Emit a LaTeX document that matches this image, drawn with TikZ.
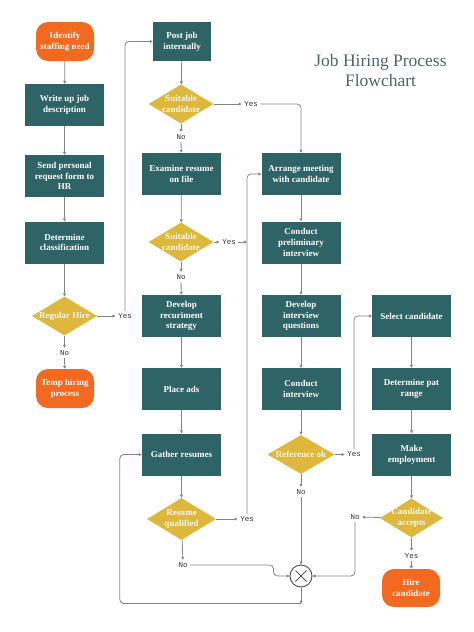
\documentclass[tikz,border=0pt]{standalone}
\usepackage{fontspec}
\setmainfont{Liberation Serif}
\setmonofont{Liberation Mono}
\usepackage{xcolor}
\usetikzlibrary{shapes.geometric, arrows.meta}
\definecolor{boxteal}{HTML}{2F6467}
\definecolor{diamgold}{HTML}{DDB83C}
\definecolor{termorange}{HTML}{F26A21}
\definecolor{wiregray}{HTML}{858585}
\definecolor{titleslate}{HTML}{4F6569}

\begin{document}
\begin{tikzpicture}[
  x=1pt, y=-1pt,
  proc/.style={fill=boxteal, text=white, minimum width=79pt, minimum height=42pt, inner sep=1pt, align=center, font=\bfseries\fontsize{9}{10.7}\selectfont},
  term/.style={proc, fill=termorange, rounded corners=12pt, minimum width=58pt, minimum height=39pt},
  decide/.style={diamond, fill=diamgold, text=white!92!diamgold, minimum width=65pt, minimum height=39pt, inner sep=-6pt, align=center, font=\bfseries\fontsize{9}{10.7}\selectfont},
  lbl/.style={inner sep=2.5pt, text=black!80, font=\ttfamily\fontsize{7.5}{8}\selectfont},
  link/.style={draw=wiregray, line width=0.8pt, rounded corners=4pt, -{Triangle[length=3pt, width=3pt]}}
]
\useasboundingbox (0,0) rectangle (474,632);

\node[font=\fontsize{17.5}{20}\selectfont, text=titleslate, align=center] (title) at (380.5,71) {Job Hiring Process\\Flowchart};

% first column
\node[term] (need) at (65,41.5) {Identify\\staffing need};
\node[proc] (writeup) at (64.5,105) {Write up job\\description};
\node[proc] (sendform) at (64.5,176) {Send personal\\request form to\\HR};
\node[proc] (classify) at (64.5,242.5) {Determine\\classification};
\node[decide] (regular) at (64.5,316) {Regular Hire};
\node[lbl] (regyes) at (125,316) {Yes};
\node[lbl] (regno) at (64.5,353) {No};
\node[term] (temp) at (65,388.5) {Temp hiring\\process};

% second column
\node[proc, minimum width=58pt, minimum height=39pt] (postjob) at (182,41.5) {Post job\\internally};
\node[decide] (suitA) at (181,104) {Suitable\\candidate};
\node[lbl] (suitAyes) at (251,104) {Yes};
\node[lbl] (suitAno) at (181,137) {No};
\node[proc] (examine) at (181.5,174) {Examine resume\\on file};
\node[decide] (suitB) at (181,242) {Suitable\\candidate};
\node[lbl] (suitByes) at (229,242) {Yes};
\node[lbl] (suitBno) at (181,277) {No};
\node[proc] (strategy) at (181.5,316) {Develop\\recuriment\\strategy};
\node[proc] (ads) at (181.5,389) {Place ads};
\node[proc] (gather) at (181.5,454.5) {Gather resumes};
\node[decide, minimum width=69pt, minimum height=42pt] (resume) at (181.5,519) {Resume\\qualified};
\node[lbl] (resyes) at (247,519) {Yes};
\node[lbl] (resno) at (183,565) {No};

% third column
\node[proc] (arrange) at (301,174) {Arrange meeting\\with candidate};
\node[proc] (prelim) at (301,242.5) {Conduct\\preliminary\\interview};
\node[proc] (questions) at (301,316) {Develop\\interview\\questions};
\node[proc] (interview) at (301,389) {Conduct\\interview};
\node[decide, minimum width=67pt] (refok) at (301,454.5) {Reference ok};
\node[lbl] (refyes) at (354,454.5) {Yes};
\node[lbl] (refno) at (301,492) {No};
\node[circle, draw=black!65, line width=1pt, fill=white, minimum size=22pt, inner sep=0pt] (merge) at (301,576) {};
\draw[black!65, line width=0.8pt] ([shift={(-5.5pt,-5.5pt)}]merge.center) -- ([shift={(5.5pt,5.5pt)}]merge.center)
  ([shift={(-5.5pt,5.5pt)}]merge.center) -- ([shift={(5.5pt,-5.5pt)}]merge.center);
\coordinate (back) at ([yshift=-16pt]merge.south);

% fourth column
\node[proc] (select) at (411.5,316) {Select candidate};
\node[proc] (payrange) at (411.5,389) {Determine pat\\range};
\node[proc] (employ) at (411.5,454.5) {Make\\employment};
\node[decide, minimum width=63pt] (accepts) at (411.5,518) {Candidate\\accepts};
\node[lbl] (accno) at (355,517) {No};
\node[lbl] (accyes) at (411.5,556) {Yes};
\node[term, minimum height=38pt] (hire) at (411,588) {Hire\\candidate};

\draw[link] (need) -- (writeup);
\draw[link] (writeup) -- (sendform);
\draw[link] (sendform) -- (classify);
\draw[link] (classify) -- (regular);
\draw[link] (regular) -- (regyes);
\draw[link] (regular) -- (regno);
\draw[link] (regno) -- (temp);
\draw[link] (regyes.north) |- (postjob.west);

\draw[link] (postjob) -- (suitA);
\draw[link] (suitA) -- (suitAyes);
\draw[link] (suitAyes.east) -| (arrange.north);
\draw[link] (suitA) -- (suitAno);
\draw[link] (suitAno) -- (examine);
\draw[link] (examine) -- (suitB);
\draw[link] (suitB) -- (suitByes);
\draw[link] (suitByes.east) -- (suitByes.east -| resyes.north);
\draw[link] (suitB) -- (suitBno);
\draw[link] (suitBno) -- (strategy);
\draw[link] (strategy) -- (ads);
\draw[link] (ads) -- (gather);
\draw[link] (gather) -- (resume);
\draw[link] (resume) -- (resyes);
\draw[link] (resyes.north) |- (arrange.west);
\draw[link] (resume) -- (resno);
\draw[link] (resno.east) -| ([xshift=-16pt]merge.west) -- (merge.west);

\draw[link] (arrange) -- (prelim);
\draw[link] (prelim) -- (questions);
\draw[link] (questions) -- (interview);
\draw[link] (interview) -- (refok);
\draw[link] (refok) -- (refyes);
\draw[link] (refyes.north) |- (select.west);
\draw[link] (refok) -- (refno);
\draw[link] (refno) -- (merge);
\draw[link] (merge) -- (back);
\draw[link] (back) -| ([xshift=-22pt]gather.west) -- (gather.west);

\draw[link] (select) -- (payrange);
\draw[link] (payrange) -- (employ);
\draw[link] (employ) -- (accepts);
\draw[link] (accepts) -- (accno);
\draw[link] (accno.south) |- (merge.east);
\draw[link] (accepts) -- (accyes);
\draw[link] (accyes) -- (hire);
\end{tikzpicture}
\end{document}
